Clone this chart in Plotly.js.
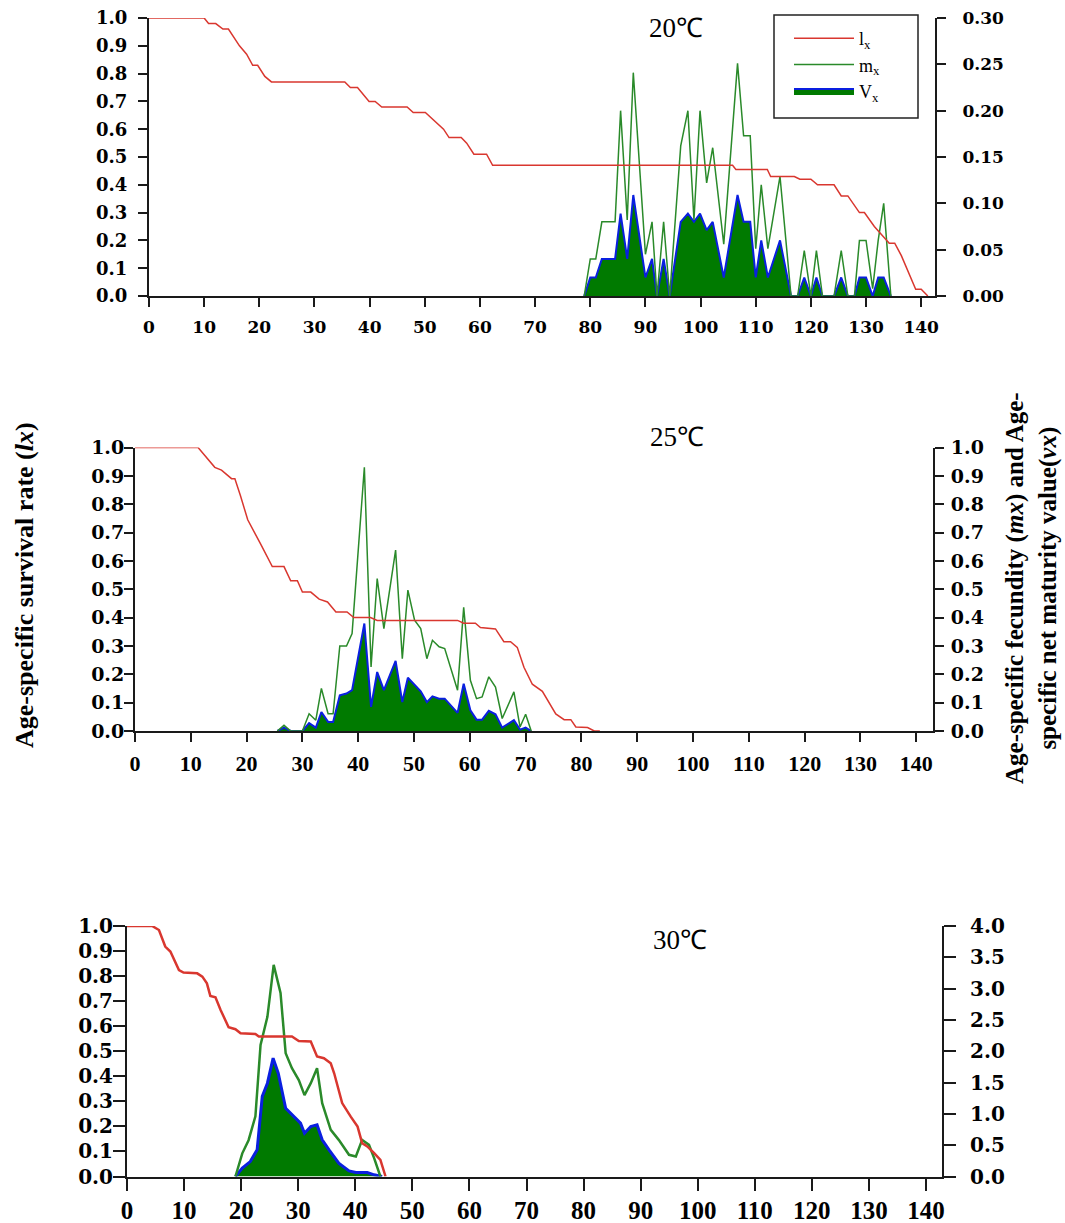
<!DOCTYPE html>
<html>
<head>
<meta charset="utf-8">
<script src="https://cdn.plot.ly/plotly-3.0.1.min.js"></script>
<style>
html,body{margin:0;padding:0;background:#fff;}
#chart{width:1065px;height:1223px;}
</style>
</head>
<body>
<div id="chart"></div>
<script>
// ---------------- DATA ----------------
// 20 °C
const lx20_age = [0, 10, 10.8, 12.1, 13.4, 14.4, 16.4, 17.7, 18.8, 19.7, 21, 22.2, 35.5, 36.5, 37.8, 39.9, 41, 42.2, 46.8, 47.9, 50.1, 53.4, 54.4, 56.6, 57.6, 58.9, 61.2, 62.3, 105.8, 106.4, 112.1, 112.7, 117, 118, 120, 121.2, 124.2, 125.5, 126.7, 128.8, 129.7, 131.5, 134.2, 135.2, 136.4, 137.6, 139, 140, 141.2];
const lx20 = [1, 1, 0.98, 0.98, 0.96, 0.96, 0.90, 0.87, 0.83, 0.83, 0.79, 0.77, 0.77, 0.75, 0.75, 0.70, 0.70, 0.68, 0.68, 0.66, 0.66, 0.60, 0.57, 0.57, 0.55, 0.51, 0.51, 0.47, 0.47, 0.455, 0.455, 0.43, 0.43, 0.42, 0.42, 0.40, 0.40, 0.36, 0.36, 0.30, 0.30, 0.25, 0.19, 0.19, 0.145, 0.09, 0.024, 0.024, 0];
const mv20_age = [78.9, 80.0, 81.0, 82.1, 84.5, 85.5, 86.7, 87.8, 90.0, 91.2, 92.1, 93.3, 94.4, 96.4, 97.7, 98.8, 99.9, 101.1, 102.2, 104.2, 106.7, 107.8, 109.0, 110.0, 111.0, 112.2, 114.4, 116.4, 117.6, 118.8, 120.0, 121.0, 122.1, 124.2, 125.5, 126.7, 127.9, 128.8, 130.0, 131.2, 132.2, 133.2, 134.5];
const mx20 = [0, 0.04, 0.04, 0.08, 0.08, 0.20, 0.082, 0.241, 0.045, 0.08, 0, 0.08, 0, 0.162, 0.20, 0.082, 0.20, 0.122, 0.16, 0.056, 0.251, 0.173, 0.173, 0.051, 0.12, 0.051, 0.129, 0, 0, 0.049, 0, 0.049, 0, 0, 0.049, 0, 0, 0.06, 0.06, 0.008, 0.06, 0.10, 0];
const vx20 = [0, 0.02, 0.02, 0.04, 0.04, 0.089, 0.04, 0.109, 0.02, 0.04, 0, 0.04, 0, 0.08, 0.089, 0.08, 0.089, 0.071, 0.08, 0.02, 0.109, 0.08, 0.08, 0.02, 0.06, 0.02, 0.06, 0, 0, 0.02, 0, 0.02, 0, 0, 0.02, 0, 0, 0.02, 0.02, 0, 0.02, 0.02, 0];

// 25 °C
const lx25_age = [0, 11.3, 14.3, 15.5, 17.3, 17.9, 18.9, 20.2, 22.5, 24.6, 26.7, 27.9, 29.1, 30, 31.5, 33, 34.5, 36, 38, 39.2, 42.2, 43.4, 57.8, 58.9, 61, 61.9, 64.6, 66.1, 67.3, 68.5, 69.7, 71.2, 73, 75.4, 76.9, 78.1, 79, 81.1, 82.3, 83.3];
const lx25 = [1, 1, 0.93, 0.92, 0.89, 0.89, 0.83, 0.745, 0.66, 0.58, 0.58, 0.53, 0.53, 0.49, 0.49, 0.465, 0.455, 0.42, 0.42, 0.40, 0.40, 0.39, 0.39, 0.38, 0.38, 0.365, 0.36, 0.315, 0.315, 0.295, 0.225, 0.165, 0.14, 0.06, 0.04, 0.04, 0.014, 0.012, 0, 0];
const mv25_age = [25.5, 26.7, 27.9, 30, 31.2, 32.4, 33.4, 34.6, 35.5, 36.7, 37.9, 38.9, 41.1, 42.3, 43.4, 44.6, 46.7, 47.9, 48.9, 50.1, 51.2, 52.3, 53.3, 54.5, 55.5, 57.8, 58.9, 60.1, 61.2, 62.2, 63.4, 64.6, 65.8, 67.9, 69, 70, 71];
const mx25 = [0, 0.02, 0, 0, 0.061, 0.038, 0.15, 0.061, 0.061, 0.30, 0.30, 0.344, 0.93, 0.226, 0.538, 0.361, 0.638, 0.255, 0.497, 0.391, 0.361, 0.255, 0.32, 0.297, 0.291, 0.144, 0.436, 0.179, 0.114, 0.12, 0.191, 0.155, 0.044, 0.138, 0.014, 0.059, 0];
const vx25 = [0, 0.012, 0, 0, 0.028, 0.012, 0.067, 0.032, 0.032, 0.126, 0.132, 0.144, 0.379, 0.085, 0.208, 0.144, 0.247, 0.102, 0.188, 0.161, 0.14, 0.102, 0.122, 0.114, 0.114, 0.064, 0.167, 0.073, 0.04, 0.04, 0.071, 0.059, 0.012, 0.038, 0.005, 0.012, 0];

// 30 °C
const lx30_age = [0, 4.4, 5.6, 6.7, 7.6, 9.1, 9.9, 12.3, 13.2, 14, 14.6, 15.5, 16.4, 17.8, 19, 19.9, 22.5, 23.1, 28.9, 30.1, 32.2, 33.3, 34.5, 35.7, 36.3, 37.7, 39.2, 40.4, 41.2, 42.1, 43.3, 44.4, 45.3];
const lx30 = [1, 1, 0.984, 0.918, 0.898, 0.824, 0.814, 0.811, 0.798, 0.771, 0.721, 0.715, 0.665, 0.596, 0.588, 0.572, 0.569, 0.559, 0.559, 0.541, 0.539, 0.479, 0.472, 0.452, 0.412, 0.293, 0.239, 0.199, 0.133, 0.12, 0.093, 0.066, 0];
const mx30_age = [19, 20.2, 21.3, 22.5, 23.4, 24.6, 25.7, 26.9, 27.8, 28.9, 30.1, 31.1, 32.2, 33.3, 34.2, 35.7, 37.1, 38.9, 40.1, 41.2, 42.4, 43.3, 44.4];
const mx30 = [0, 0.37, 0.58, 0.96, 2.1, 2.55, 3.38, 2.93, 1.97, 1.73, 1.54, 1.30, 1.49, 1.73, 1.17, 0.745, 0.585, 0.346, 0.319, 0.585, 0.505, 0.293, 0];
const vx30_age = [19, 20.2, 21.6, 22.8, 23.7, 24.6, 25.6, 26.5, 27.8, 28.9, 30.4, 31.1, 32.2, 33.3, 34.2, 35.4, 37.1, 38.9, 40.1, 42.1, 43.3, 44.7];
const vx30 = [0, 0.133, 0.239, 0.426, 1.28, 1.49, 1.89, 1.65, 1.09, 0.984, 0.851, 0.691, 0.798, 0.824, 0.585, 0.426, 0.213, 0.09, 0.064, 0.064, 0.027, 0];

const panelTitles = ['20℃', '25℃', '30℃'];
const seriesNames = ['l<sub>x</sub>', 'm<sub>x</sub>', 'V<sub>x</sub>'];
const leftTitle = 'Age-specific survival rate (<i>lx</i>)';
const rightTitle = 'Age-specific fecundity (<i>mx</i>) and Age-<br>specific net maturity value(<i>vx</i>)';

// ---------------- STYLE ----------------
const RED = '#d9372f', GREEN = '#2a8a2a', FILL = '#007a00', BLUE = '#0a1fe0';
const W = 1065, H = 1223;
function px(x){ return x / W; }
function py(y){ return 1 - y / H; }

const panels = [
  {ax:'', ay:['', '2'], xl:149, xr:935, yt:18, yb:296, xmax:142.5, rmax:0.30, rdt:0.05, rfmt:'.2f', lw:1.5,
   xfont:{family:'DejaVu Serif', size:17, weight:'bold'}, yfont:{family:'DejaVu Serif', size:18, weight:'bold'},
   rfont:{family:'DejaVu Serif', size:17, weight:'bold'}, tlen:9, lstand:7, rstand:13, xstand:6,
   d:{lxa:lx20_age, lx:lx20, ma:mv20_age, mx:mx20, va:mv20_age, vx:vx20}},
  {ax:'2', ay:['3', '4'], xl:135, xr:933, yt:447.5, yb:731, xmax:143, rmax:1.0, rdt:0.1, rfmt:'.1f', lw:1.5,
   xfont:{family:'Liberation Serif', size:22, weight:'bold'}, yfont:{family:'DejaVu Serif', size:19, weight:'bold'},
   rfont:{family:'DejaVu Serif', size:19, weight:'bold'}, tlen:9, lstand:-4, rstand:3, xstand:3,
   d:{lxa:lx25_age, lx:lx25, ma:mv25_age, mx:mx25, va:mv25_age, vx:vx25}},
  {ax:'3', ay:['5', '6'], xl:127, xr:942, yt:926, yb:1176.5, xmax:142.8, rmax:4.0, rdt:0.5, rfmt:'.1f', lw:2.5,
   xfont:{family:'Liberation Serif', size:25, weight:'bold'}, yfont:{family:'DejaVu Serif', size:20, weight:'bold'},
   rfont:{family:'DejaVu Serif', size:20, weight:'bold'}, tlen:12, lstand:-4, rstand:10, xstand:-2,
   d:{lxa:lx30_age, lx:lx30, ma:mx30_age, mx:mx30, va:vx30_age, vx:vx30}}
];

const traces = [];
const layout = {
  width: W, height: H, autosize: false,
  margin: {l:0, r:0, t:0, b:0, pad:0},
  paper_bgcolor: '#fff', plot_bgcolor: 'rgba(0,0,0,0)',
  font: {family: 'Liberation Serif', color: '#000'},
  showlegend: true,
  legend: {
    x: px(789), y: py(20), xanchor: 'left', yanchor: 'top',
    bgcolor: 'rgba(0,0,0,0)', borderwidth: 0,
    font: {family: 'Liberation Serif', size: 18, color: '#000'},
    itemwidth: 60, tracegroupgap: 0, traceorder: 'normal'
  },
  annotations: [],
  shapes: [{type:'rect', xref:'paper', yref:'paper', x0: px(774), x1: px(918), y0: py(118), y1: py(15),
            line:{color:'#222', width:1.5}, fillcolor:'rgba(0,0,0,0)', layer:'above'}]
};

panels.forEach((p, i) => {
  const xa = 'x' + p.ax, yR = 'y' + p.ay[0], yL = 'y' + p.ay[1];
  const xKey = 'xaxis' + p.ax, yRKey = 'yaxis' + p.ay[0], yLKey = 'yaxis' + p.ay[1];
  const xDom = [px(p.xl), px(p.xr)], yDom = [py(p.yb), py(p.yt)];
  const axLine = {showline: true, linecolor: '#1a1a1a', linewidth: 2, ticks: 'outside', tickcolor: '#1a1a1a',
                  tickwidth: 2, showgrid: false, zeroline: false, automargin: false, fixedrange: true};
  layout[xKey] = Object.assign({}, axLine, {domain: xDom, anchor: yR, range: [0, p.xmax], tick0: 0, dtick: 10,
                  ticklen: p.tlen, tickfont: p.xfont, ticklabelstandoff: p.xstand});
  layout[yRKey] = Object.assign({}, axLine, {domain: yDom, anchor: xa, side: 'right', range: [0, p.rmax],
                  tick0: 0, dtick: p.rdt, tickformat: p.rfmt, ticklen: p.tlen, tickfont: p.rfont, ticklabelstandoff: p.rstand});
  layout[yLKey] = Object.assign({}, axLine, {overlaying: yR, anchor: xa, side: 'left', range: [0, 1],
                  tick0: 0, dtick: 0.1, tickformat: '.1f', ticklen: p.tlen, tickfont: p.yfont, ticklabelstandoff: p.lstand});
  const show = i === 0;
  traces.push({type:'scatter', mode:'lines', x:p.d.va, y:p.d.vx, xaxis:xa, yaxis:yR, name:seriesNames[2],
               fill:'tozeroy', fillcolor:FILL, line:{color:BLUE, width:p.lw + 0.5}, showlegend:show, legendrank:3});
  traces.push({type:'scatter', mode:'lines', x:p.d.ma, y:p.d.mx, xaxis:xa, yaxis:yR, name:seriesNames[1],
               line:{color:GREEN, width:p.lw}, showlegend:show, legendrank:2});
  traces.push({type:'scatter', mode:'lines', x:p.d.lxa, y:p.d.lx, xaxis:xa, yaxis:yL, name:seriesNames[0],
               line:{color:RED, width:p.lw}, showlegend:show, legendrank:1});
});

const titlePos = [[676, 28], [677, 437], [680, 940]];
panelTitles.forEach((t, i) => {
  layout.annotations.push({text: t, xref:'paper', yref:'paper', x: px(titlePos[i][0]), y: py(titlePos[i][1]),
    xanchor:'center', yanchor:'middle', showarrow:false, font:{family:'Liberation Serif', size:27, color:'#000'}});
});
layout.annotations.push({text: leftTitle, xref:'paper', yref:'paper', x: px(24), y: py(585), textangle: -90,
  xanchor:'center', yanchor:'middle', showarrow:false, font:{family:'Liberation Serif', size:26, weight:'bold', color:'#000'}});
layout.annotations.push({text: rightTitle, xref:'paper', yref:'paper', x: px(1031), y: py(588), textangle: -90,
  align:'center', xanchor:'center', yanchor:'middle', showarrow:false,
  font:{family:'Liberation Serif', size:25, weight:'bold', color:'#000'}});

Plotly.newPlot('chart', traces, layout, {staticPlot: true, displayModeBar: false});
</script>
</body>
</html>
